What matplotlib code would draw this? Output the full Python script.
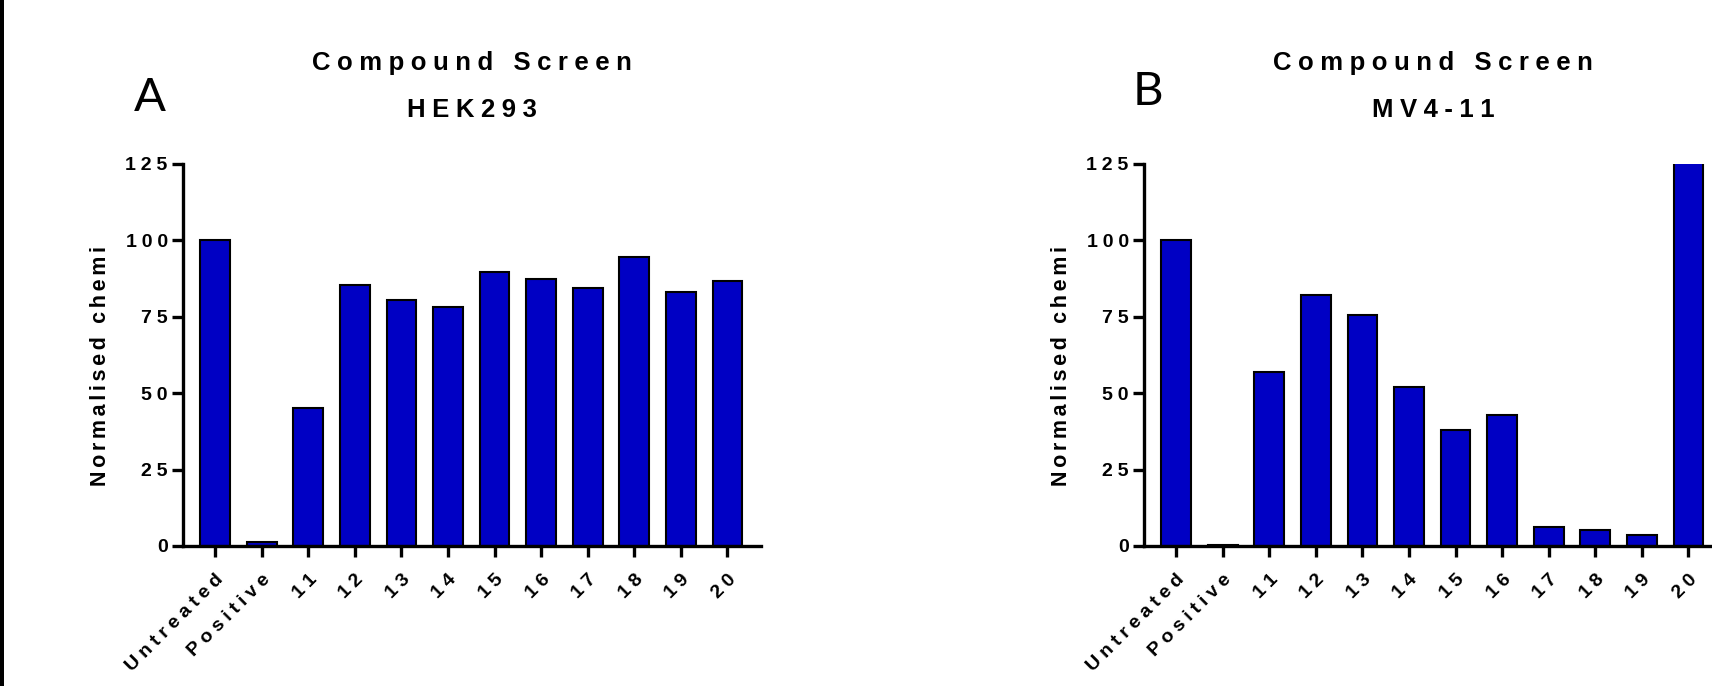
import matplotlib
matplotlib.use("Agg")
import matplotlib.pyplot as plt
from matplotlib.patches import Rectangle

# data
categories = ['Untreated', 'Positive', '11', '12', '13', '14', '15', '16', '17', '18', '19', '20']
hek293 = [100, 1.2, 45.3, 85.3, 80.6, 78.1, 89.6, 87.5, 84.4, 94.7, 83.0, 86.7]
mv411 = [100, 0.3, 56.8, 82.0, 75.7, 52.0, 37.9, 42.8, 6.3, 5.3, 3.7, 140]
yticks = [0, 25, 50, 75, 100, 125]
ylabel = 'Normalised chemi'
titles = [('Compound Screen', 'HEK293'), ('Compound Screen', 'MV4-11')]
panels = ['A', 'B']

BLUE = '#0000C4'
FAM = ['Liberation Sans', 'DejaVu Sans']


def spaced(s, sp='\u2005'):
    # letter tracking with a narrow space between characters
    return sp.join(s)


fig = plt.figure(figsize=(17.12, 6.86), dpi=100)
W, H = 1712.0, 686.0

# axes boxes in pixels: left spine x, width
boxes = [(183, 578), (1144, 578)]
ax_top, ax_bot = 164, 546

for i, (x0, w) in enumerate(boxes):
    ax = fig.add_axes([x0 / W, 1 - ax_bot / H, w / W, (ax_bot - ax_top) / H])
    vals = hek293 if i == 0 else mv411
    xs = list(range(len(categories)))
    ax.bar(xs, vals, width=0.64, color=BLUE, edgecolor='black', linewidth=1.5)
    ax.set_xlim(-0.69, 11.72)
    ax.set_ylim(0, 125)
    for s in ['top', 'right']:
        ax.spines[s].set_visible(False)
    for s in ['left', 'bottom']:
        ax.spines[s].set_linewidth(2.4)
    ax.set_yticks(yticks)
    ax.set_yticklabels([spaced(str(t)) for t in yticks], family=FAM,
                       fontsize=14, fontweight='bold')
    ax.set_xticks(xs)
    ax.set_xticklabels([spaced(c) for c in categories], family=FAM, fontsize=14,
                       fontweight='bold', rotation=45, ha='right', va='top',
                       rotation_mode='anchor')
    ax.tick_params(axis='both', direction='out', length=8, width=2.4)
    ax.tick_params(axis='y', pad=3)
    ax.tick_params(axis='x', pad=10)
    ax.set_ylabel(spaced(ylabel, '\u2006'), family=FAM, fontsize=15.5,
                  fontweight='bold', va='center')
    ax.yaxis.set_label_coords(-0.142, 0.47)
    l1, l2 = titles[i]
    ax.text(0.5, 1 + 101 / 382, spaced(l1), transform=ax.transAxes, ha='center',
            va='center', family=FAM, fontsize=18.5, fontweight='bold')
    ax.text(0.5, 1 + 54 / 382, spaced(l2), transform=ax.transAxes, ha='center',
            va='center', family=FAM, fontsize=18.5, fontweight='bold')

# panel letters
fig.text(150 / W, 1 - 98 / H, panels[0], ha='center', va='center',
         family=['Lato', 'DejaVu Sans'], fontsize=34)
fig.text(1148 / W, 1 - 92 / H, panels[1], ha='center', va='center',
         family=['Lato', 'DejaVu Sans'], fontsize=34)

# black edge line at the left border
fig.add_artist(Rectangle((0, 0), 4 / W, 1, transform=fig.transFigure,
                         color='black', lw=0))

fig.savefig('out.png', dpi=100)
